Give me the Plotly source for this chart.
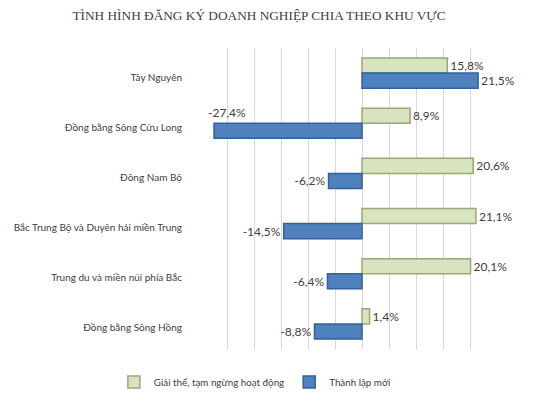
import plotly.graph_objects as go

# Khu vực (từ trên xuống dưới)
khu_vuc = [
    "Tây Nguyên",
    "Đồng bằng Sông Cửu Long",
    "Đông Nam Bộ",
    "Bắc Trung Bộ và Duyên hải miền Trung",
    "Trung du và miền núi phía Bắc",
    "Đồng bằng Sông Hồng",
]
giai_the = [15.8, 8.9, 20.6, 21.1, 20.1, 1.4]
thanh_lap_moi = [21.5, -27.4, -6.2, -14.5, -6.4, -8.8]

# nhãn của thanh -27,4% được đặt phía trên thanh như bản gốc
nhan_tlm = [f"{v:.1f}%".replace(".", ",") for v in thanh_lap_moi]
nhan_tlm_bar = [t if v > -20 else "" for t, v in zip(nhan_tlm, thanh_lap_moi)]

fig = go.Figure()

fig.add_trace(go.Bar(
    y=khu_vuc, x=giai_the, orientation="h",
    name="Giải thể, tạm ngừng hoạt động",
    marker=dict(color="#D7E4BD", line=dict(color="#98A878", width=1.5)),
    texttemplate="%{x:.1f}%", textposition="outside",
    textfont=dict(size=12, color="#404040"), cliponaxis=False,
))

fig.add_trace(go.Bar(
    y=khu_vuc, x=thanh_lap_moi, orientation="h",
    name="Thành lập mới",
    marker=dict(color="#4F81BD", line=dict(color="#35609A", width=1.5)),
    text=nhan_tlm_bar, textposition="outside",
    textfont=dict(size=12, color="#404040"), cliponaxis=False,
))

for t, v, k in zip(nhan_tlm, thanh_lap_moi, khu_vuc):
    if v <= -20:
        fig.add_annotation(
            x=v, y=k, text=t, showarrow=False,
            xanchor="left", yanchor="middle", xshift=-8, yshift=11,
            font=dict(size=12, color="#404040"),
        )

# trang có lề 8px, nên hình nhỏ hơn cửa sổ 8px
W, H = 539, 394

fig.update_layout(
    width=W, height=H,
    margin=dict(l=192, r=50, t=40, b=53, autoexpand=False),
    paper_bgcolor="white", plot_bgcolor="white",
    separators=",.",
    barmode="group", bargap=0.4, bargroupgap=0,
    font=dict(family="Lato, Liberation Sans, sans-serif", size=10, color="#404040"),
    title=dict(
        text="TÌNH HÌNH ĐĂNG KÝ DOANH NGHIỆP CHIA THEO KHU VỰC",
        x=251 / W, xanchor="center", y=1 - 7 / H, yanchor="middle",
        font=dict(family="Liberation Serif, serif", size=13.3, color="#404040"),
    ),
    legend=dict(
        orientation="h", x=-0.29, xanchor="left", y=-0.11, yanchor="middle",
        font=dict(size=9.8, color="#404040"), itemwidth=30,
    ),
    showlegend=True,
)

fig.update_xaxes(
    range=[-30, 25], dtick=5, showticklabels=False,
    showgrid=True, gridcolor="#D9D9D9", gridwidth=1,
    zeroline=False, showline=False, automargin=False,
)
fig.update_yaxes(
    autorange="reversed", showgrid=False, showline=False,
    ticks="", ticklabelstandoff=17, ticklabelshift=-4, automargin=False,
    tickfont=dict(size=10),
)

fig.write_html("out.html")
